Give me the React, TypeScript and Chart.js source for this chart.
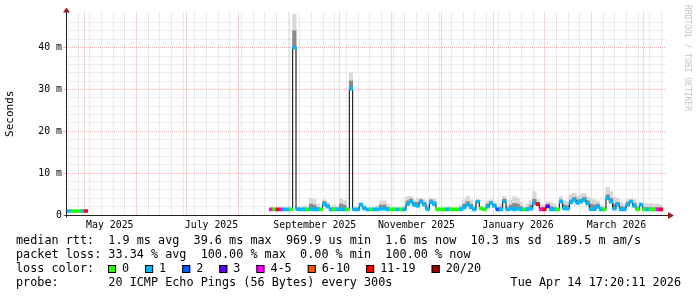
import React, { useEffect, useRef } from "react";
import { Chart, registerables } from "chart.js";

Chart.register(...registerables);

// ---------------- time frame ----------------
const MS_PER_DAY = 86400000;
const END_TIME = Date.UTC(2026, 3, 14, 17, 20, 11);
const RANGE_DAYS = 360;
const START_TIME = END_TIME - RANGE_DAYS * MS_PER_DAY;

// ---------------- data (days since graph start) ----------------
const sampleDay = [
  0, 2, 4, 6, 8, 10, 12,
  123, 125, 127, 129, 131, 133, 135, 137, 139, 141,
  143, 145, 147, 149, 151, 153, 155, 157, 159, 161,
  163, 165, 167, 169, 171, 173, 175, 177, 179, 181,
  183, 185, 187, 189, 191, 193, 195, 197, 199, 201,
  203, 205, 207, 209, 211, 213, 215, 217, 219, 221,
  223, 225, 227, 229, 231, 233, 235, 237, 239, 241,
  243, 245, 247, 249, 251, 253, 255, 257, 259, 261,
  263, 265, 267, 269, 271, 273, 275, 277, 279, 281,
  283, 285, 287, 289, 291, 293, 295, 297, 299, 301,
  303, 305, 307, 309, 311, 313, 315, 317, 319, 321,
  323, 325, 327, 329, 331, 333, 335, 337, 339, 341,
  343, 345, 347, 349, 351, 353, 355, 357,
];

// median round trip time, milliseconds
const medianMs = [
  0.95, 0.95, 0.95, 0.95, 0.95, 0.95, 0.95,
  1.35, 1.35, 1.35, 1.35, 1.35, 1.35, 1.35, 40, 1.4, 1.35,
  1.35, 1.35, 1.4, 1.35, 1.35, 1.35, 2.6, 2.0, 1.35, 1.35,
  1.35, 1.35, 1.35, 1.35, 30.2, 1.35, 1.35, 2.4, 1.6, 1.35,
  1.35, 1.35, 1.35, 1.5, 1.5, 1.35, 1.35, 1.35, 1.35, 1.35,
  1.35, 2.6, 3.2, 2.4, 2.2, 3.2, 2.5, 1.4, 3.0, 2.6,
  1.35, 1.35, 1.35, 1.35, 1.35, 1.35, 1.35, 1.35, 1.8, 2.4,
  1.9, 1.35, 3.2, 1.6, 1.35, 2.0, 2.8, 2.2, 1.35, 1.35,
  3.2, 1.35, 1.5, 1.35, 1.5, 1.35, 1.35, 1.35, 1.5, 2.8,
  2.6, 1.35, 1.35, 2.1, 1.35, 1.35, 1.35, 3.2, 1.6, 1.5,
  3.0, 3.6, 2.9, 3.2, 3.6, 2.7, 1.4, 1.4, 2.0, 1.35,
  1.35, 4.0, 3.2, 1.5, 2.5, 1.35, 1.35, 2.4, 3.2, 2.2,
  1.35, 2.4, 1.35, 1.35, 1.35, 1.35, 1.35, 1.35,
];

// darker smoke top, milliseconds
const smokeMidMs = [
  0.95, 0.95, 0.95, 0.95, 0.95, 0.95, 0.95,
  1.35, 1.35, 1.35, 1.35, 1.35, 1.4, 1.4, 44, 1.5, 1.4,
  1.6, 1.5, 2.6, 2.4, 1.8, 1.4, 3.2, 2.5, 1.6, 1.7,
  1.5, 2.6, 2.4, 1.4, 32, 1.4, 1.5, 2.7, 1.9, 1.4,
  1.4, 1.5, 1.6, 2.4, 2.4, 1.8, 1.35, 1.35, 1.4, 1.35,
  1.6, 3.4, 3.8, 3.0, 3.0, 3.6, 3.0, 1.8, 3.6, 3.2,
  1.35, 1.35, 1.35, 1.5, 1.35, 1.4, 1.35, 1.8, 2.6, 3.2,
  2.6, 1.7, 3.4, 1.8, 1.4, 2.6, 3.2, 2.6, 1.4, 1.8,
  3.8, 1.8, 2.4, 2.8, 2.6, 2.0, 1.5, 1.8, 2.4, 3.8,
  3.0, 1.8, 1.8, 2.6, 2.0, 1.8, 1.4, 3.6, 2.4, 2.2,
  3.6, 4.2, 3.6, 3.8, 4.2, 3.4, 2.6, 2.4, 2.6, 1.7,
  1.5, 4.8, 4.0, 2.6, 3.0, 2.0, 1.8, 3.0, 3.5, 2.8,
  1.6, 2.6, 1.8, 1.7, 1.8, 1.7, 1.7, 1.6,
];

// light smoke top (highest ping), milliseconds
const smokeTopMs = [
  1.1, 1.1, 1.1, 1.1, 1.1, 1.1, 1.1,
  1.35, 1.35, 1.35, 1.35, 1.35, 1.6, 1.6, 48, 1.8, 1.6,
  2.2, 1.8, 4.0, 3.6, 2.6, 1.6, 3.6, 3.0, 2.2, 2.4,
  2.0, 3.8, 3.4, 1.6, 34, 1.6, 1.8, 3.0, 2.4, 1.6,
  1.6, 1.8, 2.2, 3.4, 3.4, 2.6, 1.35, 1.35, 1.6, 1.35,
  2.2, 4.4, 4.4, 3.6, 4.0, 4.0, 3.6, 2.4, 4.0, 3.8,
  1.35, 1.35, 1.35, 1.8, 1.35, 1.6, 1.35, 2.4, 3.6, 4.5,
  3.6, 2.2, 3.6, 2.0, 1.6, 3.4, 3.6, 3.0, 1.6, 2.6,
  4.4, 2.4, 3.6, 4.4, 4.0, 3.0, 1.8, 2.6, 3.4, 5.6,
  3.6, 2.4, 2.4, 3.2, 3.0, 2.6, 1.6, 4.4, 3.4, 3.2,
  4.8, 5.2, 4.6, 5.0, 5.2, 4.4, 4.0, 3.6, 3.4, 2.4,
  2.0, 6.6, 5.6, 4.2, 4.0, 3.0, 2.6, 3.6, 3.8, 3.6,
  2.2, 3.0, 2.8, 2.6, 2.8, 2.6, 2.6, 2.4,
];

// packet-loss bucket index into lossLabels / lossColors
const lossBucket = [
  0, 1, 0, 0, 0, 1, 6,
  4, 0, 6, 4, 1, 1, 0, 1, 1, 1,
  1, 0, 1, 1, 1, 0, 1, 1, 1, 0,
  1, 1, 1, 0, 1, 1, 1, 1, 1, 1,
  0, 1, 1, 1, 1, 1, 0, 0, 1, 0,
  1, 1, 1, 1, 1, 1, 1, 1, 1, 1,
  0, 0, 0, 1, 0, 0, 0, 1, 1, 1,
  1, 1, 1, 0, 0, 1, 1, 1, 2, 1,
  1, 1, 1, 1, 1, 1, 0, 1, 1, 1,
  6, 4, 6, 3, 1, 1, 0, 1, 1, 1,
  1, 1, 1, 1, 1, 1, 1, 1, 1, 1,
  0, 1, 1, 1, 1, 1, 1, 1, 1, 1,
  0, 1, 0, 1, 0, 0, 4, 6,
];

const lossLabels = ["0", "1", "2", "3", "4-5", "6-10", "11-19", "20/20"];
const lossColors = ["#26ff00", "#00b8ff", "#0059ff", "#5e00ff", "#ff00fe", "#ff5500", "#ff0000", "#a10000"];

// axis labels
const yLabelValues = [0, 10, 20, 30, 40];
const yLabelTexts = ["0", "10 m", "20 m", "30 m", "40 m"];
const xLabelDates = ["2025-05-16", "2025-07-16", "2025-09-16", "2025-11-16", "2026-01-16", "2026-03-16"];
const xLabelTexts = ["May 2025", "July 2025", "September 2025", "November 2025", "January 2026", "March 2026"];

// legend text
const legendMedian = "median rtt:  1.9 ms avg  39.6 ms max  969.9 us min  1.6 ms now  10.3 ms sd  189.5 m am/s";
const legendLoss = "packet loss: 33.34 % avg  100.00 % max  0.00 % min  100.00 % now";
const legendLossColor = "loss color:";
const legendProbe = "probe:       20 ICMP Echo Pings (56 Bytes) every 300s";
const legendDate = "Tue Apr 14 17:20:11 2026";
const watermark = "RRDTOOL / TOBI OETIKER";
const yTitle = "Seconds";

// ---------------- styling ----------------
const MONO = '"DejaVu Sans Mono", "Liberation Mono", monospace';
const MINOR_GRID = "rgba(160,160,160,0.38)";
const MAJOR_GRID = "rgba(220,100,100,0.5)";
const AXIS_COLOR = "#222";
const ARROW_COLOR = "#9b1c1c";

// ---------------- tick helpers ----------------
const dayFromTime = (t: number) => (t - START_TIME) / MS_PER_DAY;

type TickInfo = { grid: "major" | "minor" | "none"; label: string };
function buildXTicks(): Map<number, TickInfo> {
  const map = new Map<number, TickInfo>();
  let t = Date.UTC(2025, 3, 13);
  while (t < END_TIME) {
    const d = dayFromTime(t);
    if (d > 0 && d < RANGE_DAYS) map.set(d, { grid: "minor", label: "" });
    t += 7 * MS_PER_DAY;
  }
  for (let i = 0; i < 14; i++) {
    const d = dayFromTime(Date.UTC(2025, 3 + i, 1));
    if (d > 0 && d < RANGE_DAYS) map.set(d, { grid: "major", label: "" });
  }
  xLabelDates.forEach((s, i) => {
    const [y, m, dd] = s.split("-").map(Number);
    const d = dayFromTime(Date.UTC(y, m - 1, dd));
    const prev = map.get(d);
    map.set(d, { grid: prev ? prev.grid : "none", label: xLabelTexts[i] });
  });
  return map;
}

const overlayPlugin = {
  id: "rrdOverlay",
  afterDatasetsDraw(chart: any) {
    const { ctx, chartArea } = chart;
    const xa = Math.round(chartArea.left) + 0.5;
    const ya = Math.round(chartArea.bottom) + 0.5;
    ctx.save();
    ctx.strokeStyle = AXIS_COLOR;
    ctx.lineWidth = 1;
    ctx.beginPath();
    ctx.moveTo(xa, ya + 2);
    ctx.lineTo(xa, chartArea.top - 1);
    ctx.moveTo(xa - 2, ya);
    ctx.lineTo(chartArea.right + 4, ya);
    ctx.stroke();
    ctx.fillStyle = ARROW_COLOR;
    ctx.beginPath();
    ctx.moveTo(xa, chartArea.top - 5);
    ctx.lineTo(xa - 3.5, chartArea.top);
    ctx.lineTo(xa + 3.5, chartArea.top);
    ctx.closePath();
    ctx.fill();
    ctx.beginPath();
    ctx.moveTo(chartArea.right + 8, ya);
    ctx.lineTo(chartArea.right + 2, ya - 3.5);
    ctx.lineTo(chartArea.right + 2, ya + 3.5);
    ctx.closePath();
    ctx.fill();
    ctx.restore();
  },
  afterDraw(chart: any) {
    const { ctx } = chart;
    ctx.save();
    ctx.fillStyle = "#000";
    ctx.font = `11.8px ${MONO}`;
    ctx.textBaseline = "middle";
    ctx.textAlign = "left";
    const left = 16;
    ctx.fillText(legendMedian, left, 241);
    ctx.fillText(legendLoss, left, 255);
    ctx.fillText(legendLossColor, left, 269);
    ctx.fillText(legendProbe, left, 283);
    let x = 108;
    lossLabels.forEach((lab, i) => {
      ctx.fillStyle = lossColors[i];
      ctx.fillRect(x, 265, 8, 8);
      ctx.strokeStyle = "#000";
      ctx.lineWidth = 1;
      ctx.strokeRect(x + 0.5, 265.5, 7, 7);
      ctx.fillStyle = "#000";
      ctx.fillText(lab, x + 14, 269);
      x += 14 + ctx.measureText(lab).width + 16;
    });
    ctx.textAlign = "right";
    ctx.fillText(legendDate, 681, 283);
    ctx.translate(687, 5);
    ctx.rotate(Math.PI / 2);
    ctx.textAlign = "left";
    ctx.fillStyle = "#c4c4c4";
    ctx.font = `8px ${MONO}`;
    ctx.fillText(watermark, 0, 0);
    ctx.restore();
  },
};

export default function App() {
  const ref = useRef<HTMLCanvasElement>(null);

  useEffect(() => {
    document.body.style.margin = "0";
    const xTicks = buildXTicks();
    const xTickValues = Array.from(xTicks.keys()).sort((a, b) => a - b);

    const smokeTopData: any[] = [];
    const smokeMidData: any[] = [];
    const medianData: any[] = [];
    const colorData: any[] = [];
    const colorBg: string[] = [];
    sampleDay.forEach((d, i) => {
      const m = medianMs[i];
      medianData.push({ x: d, y: m });
      if (smokeTopMs[i] > m) smokeTopData.push({ x: d, y: [m, smokeTopMs[i]] });
      if (smokeMidMs[i] > m) smokeMidData.push({ x: d, y: [m, smokeMidMs[i]] });
      colorData.push({ x: d, y: [m - 0.36, m + 0.36] });
      colorBg.push(lossColors[lossBucket[i]]);
    });

    const barCommon = {
      type: "bar" as const,
      stack: "all",
      barThickness: 3.45,
      borderWidth: 0,
    };

    const chart = new Chart(ref.current as HTMLCanvasElement, {
      type: "line",
      data: {
        datasets: [
          { ...barCommon, label: "smoke", data: smokeTopData, backgroundColor: "#d8d8d8", order: 4 } as any,
          { ...barCommon, label: "smoke core", data: smokeMidData, backgroundColor: "#8a8a8a", order: 3 } as any,
          {
            type: "line",
            label: "median",
            data: medianData,
            borderColor: "#000",
            borderWidth: 1,
            pointRadius: 0,
            stepped: "middle",
            spanGaps: 3,
            fill: false,
            order: 2,
          } as any,
          { ...barCommon, label: "loss", data: colorData, backgroundColor: colorBg, order: 1 } as any,
        ],
      },
      options: {
        responsive: false,
        devicePixelRatio: 1,
        animation: false,
        events: [],
        layout: { padding: { left: 0, top: 12.5, right: 31, bottom: 0 } },
        plugins: { legend: { display: false }, tooltip: { enabled: false } },
        scales: {
          x: {
            type: "linear",
            min: 0,
            max: RANGE_DAYS,
            offset: false,
            afterFit: (s: any) => {
              s.height = 82;
            },
            afterBuildTicks: (s: any) => {
              s.ticks = xTickValues.map((v) => ({ value: v }));
            },
            ticks: {
              autoSkip: false,
              maxRotation: 0,
              minRotation: 0,
              padding: 5,
              color: "#000",
              font: { family: MONO, size: 9.85 },
              callback: (v: any) => (xTicks.get(Number(v))?.label ?? ""),
            },
            grid: {
              offset: false,
              drawTicks: false,
              lineWidth: 1,
              color: (c: any) => {
                const info = c.tick ? xTicks.get(c.tick.value) : undefined;
                if (!info || info.grid === "none") return "rgba(0,0,0,0)";
                return info.grid === "major" ? MAJOR_GRID : MINOR_GRID;
              },
            },
            border: { display: false, dash: [1, 1] },
          },
          y: {
            type: "linear",
            min: 0,
            max: 48.4,
            stacked: false,
            afterFit: (s: any) => {
              s.width = 66;
            },
            afterBuildTicks: (s: any) => {
              const t: any[] = [];
              for (let v = 0; v <= 46; v += 2) t.push({ value: v });
              s.ticks = t;
            },
            ticks: {
              autoSkip: false,
              padding: 1,
              color: "#000",
              font: { family: MONO, size: 9.85 },
              callback: (v: any) => {
                const k = yLabelValues.indexOf(Number(v));
                return k >= 0 ? yLabelTexts[k] : "";
              },
            },
            grid: {
              drawTicks: true,
              tickLength: 3,
              lineWidth: 1,
              color: (c: any) => {
                const v = c.tick ? c.tick.value : 1;
                if (v === 0) return "rgba(0,0,0,0)";
                return v % 10 === 0 ? MAJOR_GRID : MINOR_GRID;
              },
              tickColor: (c: any) => {
                const v = c.tick ? c.tick.value : 1;
                return v % 10 === 0 ? MAJOR_GRID : "rgba(0,0,0,0)";
              },
            },
            border: { display: false, dash: [1, 1] },
            title: {
              display: true,
              text: yTitle,
              color: "#000",
              font: { family: MONO, size: 11 },
              padding: { top: 3.5, bottom: 0 },
            },
          },
        },
      } as any,
      plugins: [overlayPlugin],
    });
    return () => chart.destroy();
  }, []);

  return (
    <canvas
      ref={ref}
      width={697}
      height={297}
      style={{ display: "block", width: 697, height: 297, background: "#fff" }}
    />
  );
}
